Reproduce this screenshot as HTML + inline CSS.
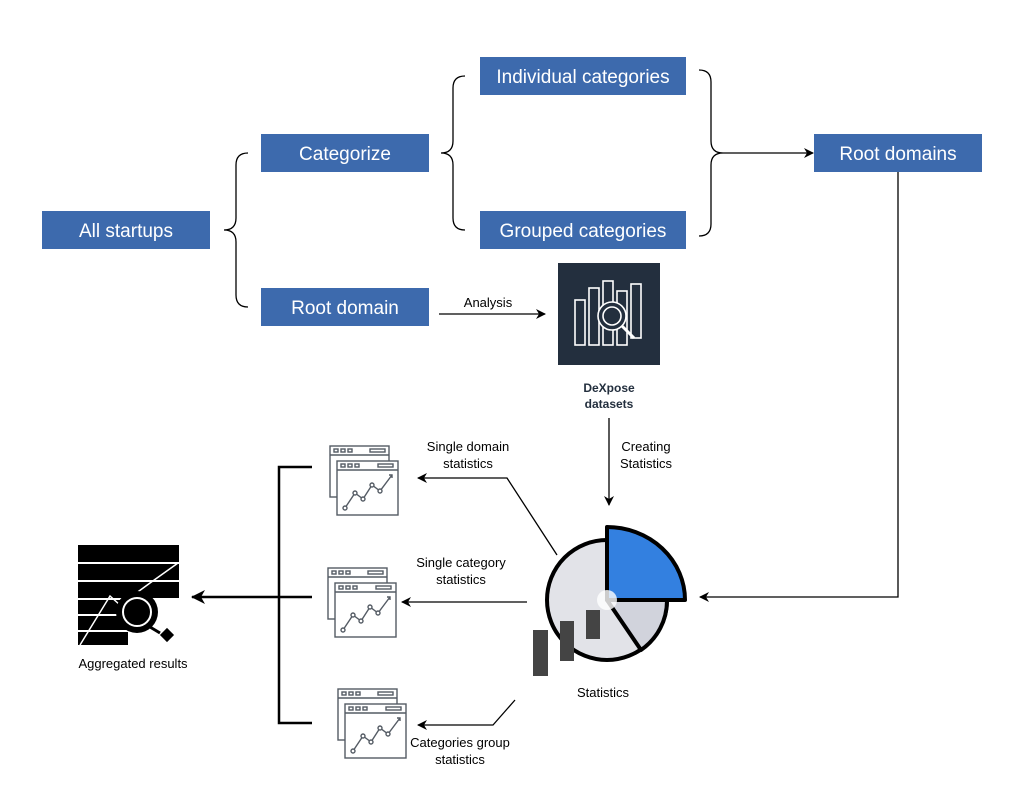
<!DOCTYPE html>
<html><head><style>
body{margin:0;background:#fff;}
svg text{font-family:"Liberation Sans",Arial,sans-serif;}
</style></head><body>
<svg width="1024" height="801" viewBox="0 0 1024 801" xmlns="http://www.w3.org/2000/svg">
<defs>
<marker id="ah" markerWidth="10" markerHeight="10" refX="9" refY="5" orient="auto" markerUnits="userSpaceOnUse">
<path d="M0,0 L10,5 L0,10 L3,5 Z" fill="#000"/></marker>
<marker id="ahb" markerWidth="14" markerHeight="14" refX="13" refY="7" orient="auto" markerUnits="userSpaceOnUse">
<path d="M0,0 L14,7 L0,14 L4,7 Z" fill="#000"/></marker>
<g id="win" fill="#fff" stroke="#545b64" stroke-width="1.4">
<rect x="0" y="0" width="59" height="51"/>
<line x1="0" y1="9" x2="59" y2="9"/>
<rect x="4" y="3" width="4" height="3"/><rect x="11" y="3" width="4" height="3"/><rect x="18" y="3" width="4" height="3"/>
<rect x="40" y="3" width="15" height="3"/>
<rect x="7" y="15" width="61" height="54"/>
<line x1="7" y1="24" x2="68" y2="24"/>
<rect x="11" y="18" width="4" height="3"/><rect x="18" y="18" width="4" height="3"/><rect x="25" y="18" width="4" height="3"/>
<rect x="48" y="18" width="15" height="3"/>
<polyline fill="none" points="15,62 25,47 33,53 42,39 50,45 62,29"/>
<circle cx="15" cy="62" r="2"/><circle cx="25" cy="47" r="2"/><circle cx="33" cy="53" r="2"/><circle cx="42" cy="39" r="2"/><circle cx="50" cy="45" r="2"/>
<path d="M59,29 L62,29 L62,32" fill="none"/>
</g>
</defs>

<g fill="#3d6aad">
<rect x="42" y="211" width="168" height="38"/>
<rect x="261" y="134" width="168" height="38"/>
<rect x="261" y="288" width="168" height="38"/>
<rect x="480" y="57" width="206" height="38"/>
<rect x="480" y="211" width="206" height="38"/>
<rect x="814" y="134" width="168" height="38"/>
</g>
<g fill="#fff" font-size="19" text-anchor="middle">
<text x="126" y="237">All startups</text>
<text x="345" y="160">Categorize</text>
<text x="345" y="314">Root domain</text>
<text x="583" y="83">Individual categories</text>
<text x="583" y="237">Grouped categories</text>
<text x="898" y="160">Root domains</text>
</g>

<g fill="none" stroke="#000" stroke-width="1.3">
<path d="M248,153 Q236,153 236,165 L236,218 Q236,230 224,230 Q236,230 236,242 L236,295 Q236,307 248,307"/>
<path d="M465,76 Q453,76 453,88 L453,141 Q453,153 441,153 Q453,153 453,165 L453,218 Q453,230 465,230"/>
<path d="M699,70 Q711,70 711,82 L711,141 Q711,153 723,153 Q711,153 711,165 L711,224 Q711,236 699,236"/>
<line x1="723" y1="153" x2="813" y2="153" marker-end="url(#ah)"/>
<line x1="439" y1="314" x2="545" y2="314" marker-end="url(#ah)"/>
<line x1="609" y1="418" x2="609" y2="505" marker-end="url(#ah)"/>
<polyline points="898,172 898,597 700,597" marker-end="url(#ah)"/>
<polyline points="557,555 507,478 418,478" marker-end="url(#ah)"/>
<line x1="527" y1="602" x2="402" y2="602" marker-end="url(#ah)"/>
<polyline points="515,700 493,725 418,725" marker-end="url(#ah)"/>
</g>
<g font-size="13" fill="#000" text-anchor="middle">
<text x="488" y="307">Analysis</text>
<text x="646" y="451">Creating</text><text x="646" y="468">Statistics</text>
<text x="468" y="451">Single domain</text><text x="468" y="468">statistics</text>
<text x="461" y="567">Single category</text><text x="461" y="584">statistics</text>
<text x="460" y="747">Categories group</text><text x="460" y="764">statistics</text>
<text x="603" y="697">Statistics</text>
<text x="133" y="668">Aggregated results</text>
<text x="609" y="392" font-weight="bold" font-size="12" fill="#232f3e">DeXpose</text>
<text x="609" y="408" font-weight="bold" font-size="12" fill="#232f3e">datasets</text>
</g>

<!-- DeXpose icon -->
<rect x="558" y="263" width="102" height="102" fill="#232f3e"/>
<g fill="none" stroke="#fff" stroke-width="1.6">
<rect x="575" y="300" width="10" height="45"/>
<rect x="589" y="288" width="10" height="57"/>
<rect x="603" y="281" width="10" height="64"/>
<rect x="617" y="291" width="10" height="54"/>
<rect x="631" y="284" width="10" height="54"/>
<circle cx="612" cy="316" r="14" fill="#232f3e"/>
<circle cx="612" cy="316" r="9"/>
<line x1="622" y1="326" x2="634" y2="338" stroke-width="3"/>
</g>

<!-- Pie -->
<circle cx="607" cy="600" r="60" fill="#e2e3e8" stroke="#000" stroke-width="4"/>
<path d="M607,600 L667,600 A60,60 0 0 1 641,650 Z" fill="#d1d3dc" stroke="#000" stroke-width="4" stroke-linejoin="round"/>
<path d="M607,600 L607,527 A78,73 0 0 1 685,600 Z" fill="#3380e0" stroke="#000" stroke-width="4" stroke-linejoin="round"/>
<circle cx="607" cy="600" r="10" fill="#fff" opacity="0.8"/>
<g fill="#444">
<rect x="533" y="630" width="15" height="46"/>
<rect x="560" y="621" width="14" height="40"/>
<rect x="586" y="610" width="14" height="29"/>
</g>

<!-- stats icons -->
<use href="#win" x="330" y="446"/>
<use href="#win" x="328" y="568"/>
<use href="#win" x="338" y="689"/>

<!-- bracket -->
<g fill="none" stroke="#000" stroke-width="2.5">
<polyline points="312,467 279,467 279,723 312,723"/>
<line x1="312" y1="597" x2="279" y2="597"/>
<line x1="279" y1="597" x2="192" y2="597" marker-end="url(#ahb)"/>
</g>

<!-- aggregated icon -->
<g fill="#000">
<rect x="78" y="545" width="101" height="17"/>
<rect x="78" y="564" width="101" height="16"/>
<rect x="78" y="582" width="101" height="16"/>
<rect x="78" y="600" width="50" height="14"/>
<rect x="78" y="616" width="50" height="14"/>
<rect x="78" y="632" width="50" height="13"/>
</g>
<polyline points="80,645 110,596 120,605 150,583 178,563" fill="none" stroke="#fff" stroke-width="1.5"/>
<circle cx="137" cy="612" r="21" fill="#000"/>
<circle cx="137" cy="612" r="14" fill="none" stroke="#fff" stroke-width="2"/>
<line x1="150" y1="627" x2="160" y2="633" stroke="#000" stroke-width="3"/>
<rect x="162" y="630" width="10" height="10" fill="#000" transform="rotate(45 167 635)"/>
</svg>
</body></html>
